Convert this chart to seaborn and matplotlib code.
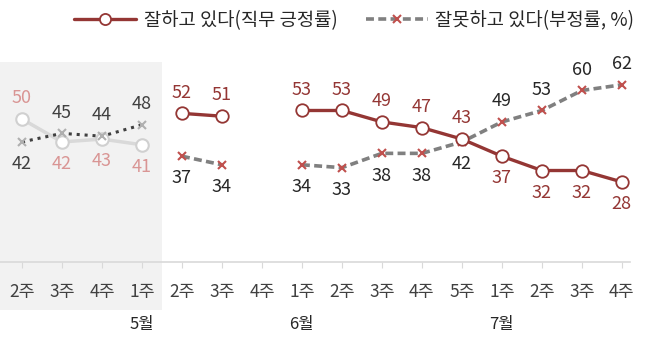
import numpy as np
import pandas as pd
import matplotlib
matplotlib.use("Agg")
import matplotlib.pyplot as plt
import seaborn as sns
from matplotlib.patches import Rectangle
from matplotlib.lines import Line2D
from matplotlib.transforms import blended_transform_factory

sns.set_style("white")
plt.rcParams['font.family'] = ['Noto Sans CJK KR', 'DejaVu Sans']

weeks = ["2주", "3주", "4주", "1주", "2주", "3주", "4주", "1주", "2주", "3주", "4주", "5주", "1주", "2주", "3주", "4주"]
months = {3: "5월", 7: "6월", 12: "7월"}
positive = [50, 42, 43, 41, 52, 51, np.nan, 53, 53, 49, 47, 43, 37, 32, 32, 28]
negative = [42, 45, 44, 48, 37, 34, np.nan, 34, 33, 38, 38, 42, 49, 53, 60, 62]
pos_label_above = [1, 0, 0, 0, 1, 1, 0, 1, 1, 1, 1, 1, 0, 0, 0, 0]

df = pd.DataFrame({"x": np.arange(len(weeks)), "pos": positive, "neg": negative})

RED = "#943634"
XRED = "#c0504d"
GRAY = "#808080"

fig = plt.figure(figsize=(6.5, 3.42), dpi=100)
ax = fig.add_axes([0.0, 0.234, 0.969, 0.585])
ax.set_facecolor("none")

segments = [(0, 3), (4, 5), (7, 15)]

# faded segment
faded = df.iloc[0:4]
sns.lineplot(data=faded, x="x", y="pos", ax=ax, color="#d9d9d9", lw=2.5,
             marker="o", markersize=9, markerfacecolor="white", markeredgecolor="#d0d0d0",
             markeredgewidth=1.5, zorder=3)
sns.lineplot(data=faded, x="x", y="neg", ax=ax, color="#404040", lw=2.2,
             linestyle=(0, (1, 1.6)), marker="x", markersize=6,
             markeredgecolor="#b0b0b0", markeredgewidth=1.5, zorder=4)

for a, b in segments[1:]:
    seg = df.iloc[a:b + 1]
    sns.lineplot(data=seg, x="x", y="neg", ax=ax, color=GRAY, lw=2.6,
                 linestyle=(0, (2.2, 1.2)), marker="x", markersize=6,
                 markeredgecolor=XRED, markeredgewidth=1.5, zorder=4)
    sns.lineplot(data=seg, x="x", y="pos", ax=ax, color=RED, lw=2.4,
                 marker="o", markersize=9, markerfacecolor="white", markeredgecolor=RED,
                 markeredgewidth=1.3, zorder=5)

for i in range(len(weeks)):
    if np.isnan(positive[i]):
        continue
    fadedpt = i < 4
    pc = "#d99594" if fadedpt else RED
    nc = "#404040" if fadedpt else "#262626"
    if pos_label_above[i]:
        ax.annotate(f"{positive[i]:.0f}", (i, positive[i]), xytext=(0, 15), textcoords="offset points",
                    ha="center", va="center", fontsize=13, color=pc)
        ax.annotate(f"{negative[i]:.0f}", (i, negative[i]), xytext=(0, -16), textcoords="offset points",
                    ha="center", va="center", fontsize=13, color=nc)
    else:
        ax.annotate(f"{positive[i]:.0f}", (i, positive[i]), xytext=(0, -16), textcoords="offset points",
                    ha="center", va="center", fontsize=13, color=pc)
        ax.annotate(f"{negative[i]:.0f}", (i, negative[i]), xytext=(0, 15), textcoords="offset points",
                    ha="center", va="center", fontsize=13, color=nc)

ax.set_xlim(-0.55, 15.2)
ax.set_ylim(0, 70)
ax.set_xticks(np.arange(len(weeks)))
ax.set_xticklabels(weeks)
ax.set_yticks([])
ax.set_xlabel("")
ax.set_ylabel("")
ax.tick_params(axis="x", length=4.5, color="#d9d9d9", pad=11, labelsize=12.5, labelcolor="#404040", bottom=True)
for s in ["top", "right", "left"]:
    ax.spines[s].set_visible(False)
ax.spines["bottom"].set_color("#d9d9d9")
ax.spines["bottom"].set_linewidth(1.2)

trans = blended_transform_factory(ax.transData, ax.transAxes)
for i, m in months.items():
    ax.text(i, -0.315, m, transform=trans, ha="center", va="center", fontsize=12, color="#262626")

# shaded region
rt = blended_transform_factory(ax.transData, fig.transFigure)
rect = Rectangle((-0.55, 0.094), 4.05, 0.725, transform=rt, facecolor="#f2f2f2",
                 edgecolor="none", zorder=0, clip_on=False)
ax.add_patch(rect)

handles = [
    Line2D([], [], color=RED, lw=2.4, marker="o", markersize=8, markerfacecolor="white",
           markeredgecolor=RED, markeredgewidth=1.3),
    Line2D([], [], color=GRAY, lw=2.6, linestyle=(0, (2.2, 1.2)), marker="x", markersize=6,
           markeredgecolor=XRED, markeredgewidth=1.5),
]
fig.legend(handles, ["잘하고 있다(직무 긍정률)", "잘못하고 있다(부정률, %)"], loc="center",
           bbox_to_anchor=(0.545, 0.94), ncol=2, frameon=False, fontsize=13.5,
           handlelength=3.3, handletextpad=0.4, columnspacing=1.5, labelcolor="#262626")

fig.savefig("out.png", dpi=100)
